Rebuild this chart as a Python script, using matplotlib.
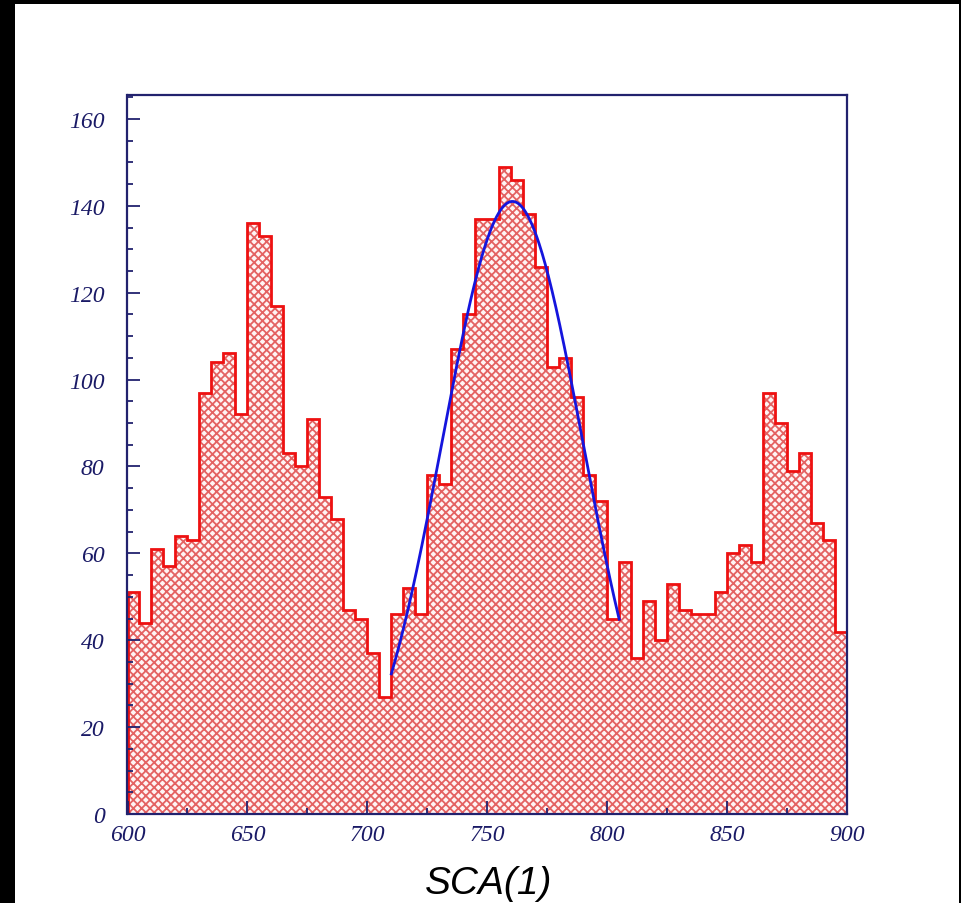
import numpy as np
import matplotlib
matplotlib.use("Agg")
import matplotlib.pyplot as plt
from matplotlib.patches import Rectangle
from matplotlib.ticker import MultipleLocator

# ---- data ----
bin_edges = np.arange(600, 905, 5)
counts = [51, 44, 61, 57, 64, 63, 97, 104, 106, 92,
          136, 133, 117, 83, 80, 91, 73, 68, 47, 45,
          37, 27, 46, 52, 46, 78, 76, 107, 115, 137,
          137, 149, 146, 138, 126, 103, 105, 96, 78, 72,
          45, 58, 36, 49, 40, 53, 47, 46, 46, 51,
          60, 62, 58, 97, 90, 79, 83, 67, 63, 42]
fit_amp = 141.0
fit_mean = 760.5
fit_sigma = 29.4
fit_range = (710, 805)
x_label = "SCA(1)"

W, H = 961, 904
fig = plt.figure(figsize=(W / 100, H / 100), dpi=100, facecolor="black")
fig.patches.append(Rectangle((15 / W, 0), (959 - 15) / W, (H - 5) / H,
                             transform=fig.transFigure, facecolor="white",
                             edgecolor="none", zorder=-10))

left, right, top, bottom = 127.5, 847, 96, 815
ax = fig.add_axes([left / W, (H - bottom) / H, (right - left) / W, (bottom - top) / H])
ax.set_zorder(5)

plt.rcParams["hatch.linewidth"] = 1.3
ax.stairs(counts, bin_edges, fill=True, facecolor="#fff4f4", edgecolor="#e46262",
          hatch="xxxx", linewidth=0, baseline=0)
ax.stairs(counts, bin_edges, fill=False, color="#ee1111", linewidth=2.0, baseline=0)

xf = np.linspace(fit_range[0], fit_range[1], 300)
yf = fit_amp * np.exp(-0.5 * ((xf - fit_mean) / fit_sigma) ** 2)
ax.plot(xf, yf, color="#1515dd", linewidth=2.0)

ax.set_xlim(600, 900)
ax.set_ylim(0, 165.5)

navy = "#22226e"
for s in ax.spines.values():
    s.set_color(navy)
    s.set_linewidth(1.6)

ax.xaxis.set_major_locator(MultipleLocator(50))
ax.xaxis.set_minor_locator(MultipleLocator(25))
ax.yaxis.set_major_locator(MultipleLocator(20))
ax.yaxis.set_minor_locator(MultipleLocator(5))
ax.tick_params(which="both", direction="in", color=navy, width=1.3,
               top=False, right=False)
ax.tick_params(which="major", length=9.5)
ax.tick_params(which="minor", length=4.5)
ax.tick_params(axis="y", which="major", pad=16.5)
ax.tick_params(axis="x", which="major", pad=7.5)

for lab in ax.get_xticklabels() + ax.get_yticklabels():
    lab.set_fontfamily("Liberation Serif")
    lab.set_fontstyle("italic")
    lab.set_fontsize(17)
    lab.set_color("#1a1a66")

fig.text(489 / W, 1 - 884 / H, x_label, ha="center", va="center",
         fontsize=28, family="Liberation Sans", style="italic", color="black",
         zorder=6)

fig.savefig("out.png", dpi=100, facecolor="black")
